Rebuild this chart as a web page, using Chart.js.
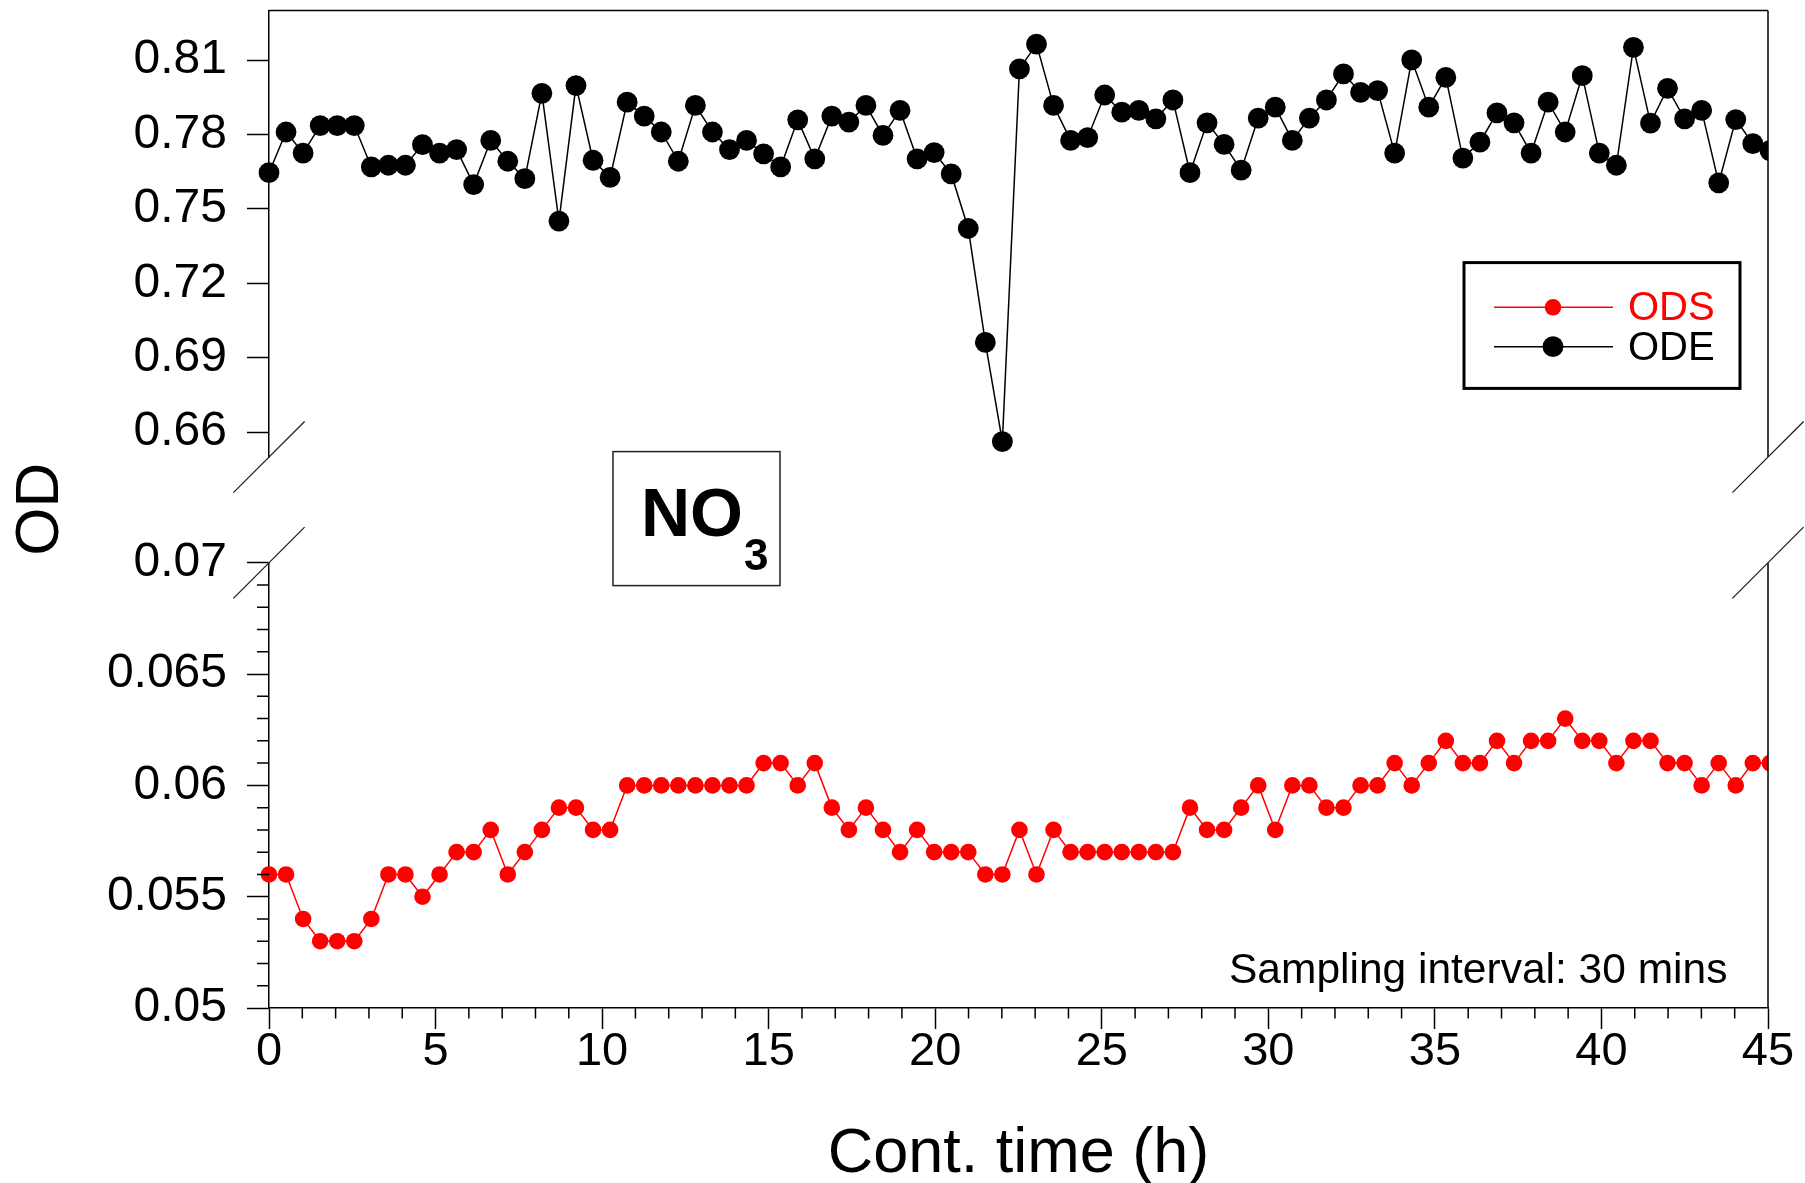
<!DOCTYPE html>
<html>
<head>
<meta charset="utf-8">
<title>NO3 - ODS / ODE</title>
<script src="https://cdn.jsdelivr.net/npm/chart.js@4.4.1/dist/chart.umd.min.js"></script>
<style>
    html, body { margin: 0; padding: 0; background: #fff; }
    #wrap { width: 1805px; height: 1183px; }
</style>
</head>
<body>
<div id="wrap"><canvas id="odChart" width="1805" height="1183"></canvas></div>
<script>
// plotted spacing of the 30-min samples on the time axis (h)
const sampleStepH = 0.512;

// ODS (bottom panel, red)
const odsValues = [
    0.056, 0.056, 0.054, 0.053, 0.053, 0.053, 0.054, 0.056, 0.056, 0.055,
    0.056, 0.057, 0.057, 0.058, 0.056, 0.057, 0.058, 0.059, 0.059, 0.058,
    0.058, 0.060, 0.060, 0.060, 0.060, 0.060, 0.060, 0.060, 0.060, 0.061,
    0.061, 0.060, 0.061, 0.059, 0.058, 0.059, 0.058, 0.057, 0.058, 0.057,
    0.057, 0.057, 0.056, 0.056, 0.058, 0.056, 0.058, 0.057, 0.057, 0.057,
    0.057, 0.057, 0.057, 0.057, 0.059, 0.058, 0.058, 0.059, 0.060, 0.058,
    0.060, 0.060, 0.059, 0.059, 0.060, 0.060, 0.061, 0.060, 0.061, 0.062,
    0.061, 0.061, 0.062, 0.061, 0.062, 0.062, 0.063, 0.062, 0.062, 0.061,
    0.062, 0.062, 0.061, 0.061, 0.060, 0.061, 0.060, 0.061, 0.061
];

// ODE (top panel, black)
const odeValues = [
    0.7646, 0.7810, 0.7725, 0.7836, 0.7836, 0.7836, 0.7669, 0.7676, 0.7676, 0.7759,
    0.7725, 0.7739, 0.7598, 0.7776, 0.7692, 0.7622, 0.7966, 0.7451, 0.7997, 0.7696,
    0.7627, 0.7930, 0.7874, 0.7810, 0.7692, 0.7917, 0.7810, 0.7739, 0.7776, 0.7722,
    0.7669, 0.7859, 0.7702, 0.7874, 0.7850, 0.7917, 0.7796, 0.7897, 0.7702, 0.7727,
    0.7641, 0.7421, 0.6962, 0.6562, 0.8064, 0.8164, 0.7917, 0.7776, 0.7787, 0.7959,
    0.7890, 0.7897, 0.7863, 0.7939, 0.7646, 0.7847, 0.7760, 0.7656, 0.7866, 0.7910,
    0.7776, 0.7866, 0.7939, 0.8044, 0.7970, 0.7977, 0.7725, 0.8101, 0.7910, 0.8030,
    0.7705, 0.7769, 0.7887, 0.7847, 0.7725, 0.7930, 0.7810, 0.8037, 0.7725, 0.7676,
    0.8151, 0.7846, 0.7986, 0.7863, 0.7897, 0.7605, 0.7860, 0.7763, 0.7735
];

const timeTicks = [0, 5, 10, 15, 20, 25, 30, 35, 40, 45];
const odsTicks = [0.05, 0.055, 0.06, 0.065, 0.07];
const odeTicks = [0.66, 0.69, 0.72, 0.75, 0.78, 0.81];
const seriesNames = ['ODS', 'ODE'];
const seriesColors = ['#ff0000', '#000000'];

const FONT = '"Liberation Sans", Arial, sans-serif';
Chart.defaults.font.family = FONT;
Chart.defaults.color = '#000';

function toPoints(values) {
    return values.map((v, i) => ({ x: i * sampleStepH, y: v }));
}

function fixedTicks(list) {
    return scale => { scale.ticks = list.map(v => ({ value: v })); };
}

function yAxis(min, max, ticks, weight, stackWeight) {
    return {
        type: 'linear',
        position: 'left',
        stack: 'od',
        stackWeight: stackWeight,
        weight: weight,
        min: min,
        max: max,
        afterBuildTicks: fixedTicks(ticks),
        afterFit: scale => {
            scale.width = 269;
            scale.paddingTop = 0;
            scale.paddingBottom = 0;
        },
        ticks: {
            autoSkip: false,
            padding: 20,
            font: { size: 48, lineHeight: 1 },
            callback: v => String(v)
        },
        grid: { drawOnChartArea: false, drawTicks: true, tickLength: 22, tickWidth: 1.5, tickColor: '#000' },
        border: { display: true, color: '#000', width: 1.5 }
    };
}

const decorations = {
    id: 'decorations',
    afterDraw(chart) {
        const { ctx, chartArea } = chart;
        const xs = chart.scales.x;
        const top = chart.scales.yTop;
        const bot = chart.scales.yBottom;

        ctx.save();
        ctx.strokeStyle = '#000';
        ctx.lineWidth = 1.5;

        // frame: top and right borders of both panels
        ctx.beginPath();
        ctx.moveTo(chartArea.left, top.top);
        ctx.lineTo(chartArea.right, top.top);
        ctx.moveTo(chartArea.right, top.top);
        ctx.lineTo(chartArea.right, top.bottom);
        ctx.moveTo(chartArea.right, bot.top);
        ctx.lineTo(chartArea.right, bot.bottom);
        ctx.stroke();

        // minor ticks
        ctx.beginPath();
        for (let t = 0; t <= 45; t++) {
            if (t % 5 === 0) continue;
            const px = xs.getPixelForValue(t);
            ctx.moveTo(px, xs.top);
            ctx.lineTo(px, xs.top + 10.5);
        }
        for (let k = 50; k <= 70; k++) {
            if (k % 5 === 0) continue;
            const py = bot.getPixelForValue(k / 1000);
            ctx.moveTo(chartArea.left - 12, py);
            ctx.lineTo(chartArea.left, py);
        }
        ctx.stroke();

        // axis break marks
        const d = 35.6;
        ctx.strokeStyle = '#222';
        ctx.lineWidth = 1.3;
        ctx.beginPath();
        [chartArea.left, chartArea.right].forEach(px => {
            [top.bottom, bot.top].forEach(py => {
                ctx.moveTo(px - d, py + d);
                ctx.lineTo(px + d, py - d);
            });
        });
        ctx.stroke();

        // axis titles
        ctx.fillStyle = '#000';
        ctx.font = '63px ' + FONT;
        ctx.textAlign = 'center';
        ctx.textBaseline = 'alphabetic';
        ctx.fillText('Cont. time (h)', (chartArea.left + chartArea.right) / 2, 1172);

        ctx.font = '62px ' + FONT;
        ctx.textBaseline = 'middle';
        ctx.save();
        ctx.translate(41, (chartArea.top + chartArea.bottom) / 2);
        ctx.rotate(-Math.PI / 2);
        ctx.fillText('OD', 0, 0);
        ctx.restore();

        // legend
        ctx.lineWidth = 3;
        ctx.strokeStyle = '#000';
        ctx.strokeRect(1464, 262.6, 276, 125.8);
        const rows = [307.3, 346.7];
        chart.data.datasets.forEach((ds, i) => {
            const y = rows[i];
            ctx.strokeStyle = ds.borderColor;
            ctx.lineWidth = 1.5;
            ctx.beginPath();
            ctx.moveTo(1494, y);
            ctx.lineTo(1613, y);
            ctx.stroke();
            ctx.fillStyle = ds.borderColor;
            ctx.beginPath();
            ctx.arc(1553, y, ds.pointRadius, 0, Math.PI * 2);
            ctx.fill();
            ctx.font = '40px ' + FONT;
            ctx.textAlign = 'left';
            ctx.textBaseline = 'alphabetic';
            ctx.fillText(ds.label, 1628, y + 13);
        });

        // species box
        ctx.fillStyle = '#fff';
        ctx.fillRect(613, 451.6, 167, 134);
        ctx.strokeStyle = '#222';
        ctx.lineWidth = 1.5;
        ctx.strokeRect(613, 451.6, 167, 134);
        ctx.fillStyle = '#000';
        ctx.textAlign = 'left';
        ctx.textBaseline = 'alphabetic';
        ctx.font = 'bold 68px ' + FONT;
        ctx.fillText('NO', 641, 535.8);
        ctx.font = 'bold 44px ' + FONT;
        ctx.fillText('3', 744, 570);

        // note
        ctx.font = '42.5px ' + FONT;
        ctx.fillText('Sampling interval: 30 mins', 1229, 983);

        ctx.restore();
    }
};

const ctx = document.getElementById('odChart').getContext('2d');
window.odChart = new Chart(ctx, {
    type: 'line',
    data: {
        datasets: [{
            label: seriesNames[0],
            data: toPoints(odsValues),
            yAxisID: 'yBottom',
            borderColor: seriesColors[0],
            backgroundColor: seriesColors[0],
            borderWidth: 1.5,
            pointRadius: 8.3,
            pointBorderWidth: 0,
            pointBackgroundColor: seriesColors[0],
            tension: 0,
            clip: { left: false, top: false, right: 0, bottom: false }
        }, {
            label: seriesNames[1],
            data: toPoints(odeValues),
            yAxisID: 'yTop',
            borderColor: seriesColors[1],
            backgroundColor: seriesColors[1],
            borderWidth: 1.5,
            pointRadius: 10.4,
            pointBorderWidth: 0,
            pointBackgroundColor: seriesColors[1],
            tension: 0,
            clip: { left: false, top: false, right: 0, bottom: false }
        }]
    },
    options: {
        responsive: false,
        devicePixelRatio: 1,
        animation: false,
        layout: { padding: { top: 7.5, right: 37, bottom: 0, left: 0 } },
        plugins: {
            legend: { display: false },
            tooltip: { enabled: false }
        },
        scales: {
            x: {
                type: 'linear',
                position: 'bottom',
                min: 0,
                max: 45,
                afterBuildTicks: fixedTicks(timeTicks),
                afterFit: scale => {
                    scale.height = 175;
                    scale.paddingLeft = 0;
                    scale.paddingRight = 0;
                },
                ticks: {
                    autoSkip: false,
                    maxRotation: 0,
                    padding: 0,
                    font: { size: 47, lineHeight: 1 },
                    callback: v => String(v)
                },
                grid: { drawOnChartArea: false, drawTicks: true, tickLength: 21, tickWidth: 1.5, tickColor: '#000' },
                border: { display: true, color: '#000', width: 1.5 },
                title: { display: false }
            },
            yTop: yAxis(0.65, 0.83, odeTicks, 3, 447.8),
            yGap: {
                type: 'linear',
                position: 'left',
                stack: 'od',
                stackWeight: 106,
                weight: 2,
                display: false,
                min: 0,
                max: 1
            },
            yBottom: yAxis(0.05, 0.07, odsTicks, 1, 446.4)
        }
    },
    plugins: [decorations]
});
</script>
</body>
</html>
